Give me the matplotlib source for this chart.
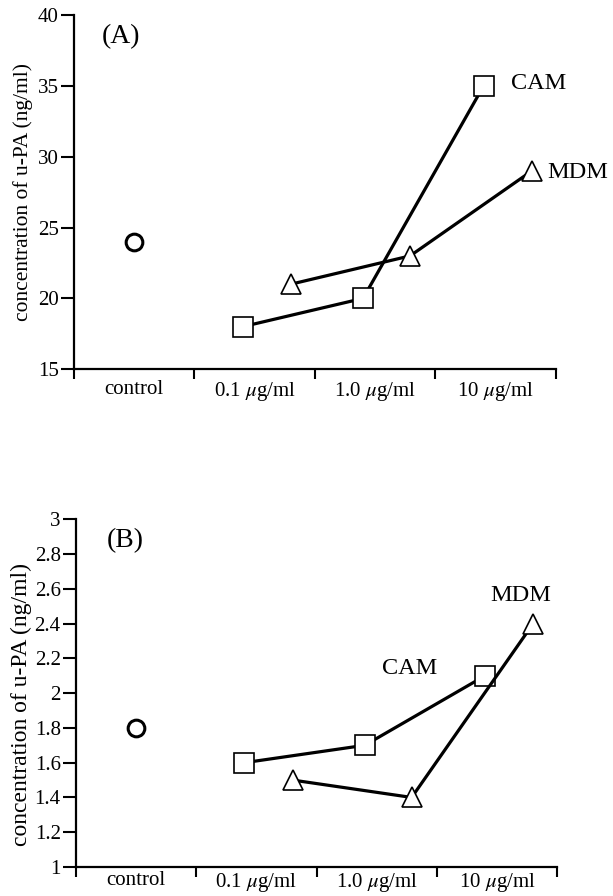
import matplotlib
matplotlib.use("Agg")
import matplotlib.pyplot as plt
import numpy as np

plt.rcParams["font.family"] = ["Liberation Serif", "DejaVu Serif"]
plt.rcParams["mathtext.fontset"] = "stix"

categories = ["control", r"0.1 $\mu$g/ml", r"1.0 $\mu$g/ml", r"10 $\mu$g/ml"]

# panel A: u-PA (ng/ml)
control_a = 24
cam_a = [18, 20, 35]
mdm_a = [21, 23, 29]

# panel B: u-PA (ng/ml)
control_b = 1.8
cam_b = [1.6, 1.7, 2.1]
mdm_b = [1.5, 1.4, 2.4]

cam_x = np.array([1.40, 2.40, 3.40])
mdm_x = np.array([1.80, 2.79, 3.80])

fig = plt.figure(figsize=(6.13, 8.96), dpi=100)
ax_a = fig.add_axes([0.1207, 0.588, 0.786, 0.395])
ax_b = fig.add_axes([0.124, 0.0324, 0.785, 0.388])


def style(ax, ylim, yticks, ylabels, xpad, ylabel_size):
    ax.set_xlim(0, 4)
    ax.set_ylim(*ylim)
    for s in ["top", "right"]:
        ax.spines[s].set_visible(False)
    for s in ["left", "bottom"]:
        ax.spines[s].set_linewidth(1.6)
    ax.set_yticks(yticks)
    ax.set_yticklabels(ylabels)
    ax.set_xticks([0, 1, 2, 3, 4])
    ax.set_xticklabels([])
    ax.set_xticks([0.5, 1.5, 2.5, 3.5], minor=True)
    ax.set_xticklabels(categories, minor=True)
    ax.tick_params(axis="x", which="major", length=7, width=1.5, direction="out")
    ax.tick_params(axis="x", which="minor", length=0, labelsize=15, pad=xpad)
    ax.tick_params(axis="y", length=9.5, width=1.5, labelsize=15, pad=1.5)
    ax.set_ylabel("concentration of u-PA (ng/ml)", fontsize=ylabel_size)


def draw(ax, control, cam, mdm):
    ax.plot([0.5], [control], marker="o", ms=12, mfc="white", mec="black", mew=2.2,
            ls="none", clip_on=False, zorder=4)
    ax.plot(cam_x, cam, color="black", lw=2.3, marker="s", ms=14, mfc="white",
            mec="black", mew=1.2, clip_on=False, zorder=3)
    ax.plot(mdm_x, mdm, color="black", lw=2.3, marker="^", ms=15, mfc="white",
            mec="black", mew=1.2, clip_on=False, zorder=3)


style(ax_a, (15, 40), [15, 20, 25, 30, 35, 40], ["15", "20", "25", "30", "35", "40"], 8, 15.5)
ax_a.yaxis.set_label_coords(-0.085, 0.5)
draw(ax_a, control_a, cam_a, mdm_a)
ax_a.text(0.39, 38.5, "(A)", fontsize=20, ha="center", va="center")
ax_a.text(3.63, 35.2, "CAM", fontsize=17.5, ha="left", va="center")
ax_a.text(3.93, 28.9, "MDM", fontsize=17.5, ha="left", va="center")

yb = [1, 1.2, 1.4, 1.6, 1.8, 2, 2.2, 2.4, 2.6, 2.8, 3]
style(ax_b, (1, 3), yb, ["1", "1.2", "1.4", "1.6", "1.8", "2", "2.2", "2.4", "2.6", "2.8", "3"], 3, 17)
ax_b.yaxis.set_label_coords(-0.092, 0.466)
draw(ax_b, control_b, cam_b, mdm_b)
ax_b.text(0.41, 2.88, "(B)", fontsize=20, ha="center", va="center")
ax_b.text(3.70, 2.56, "MDM", fontsize=17.5, ha="center", va="center")
ax_b.text(2.77, 2.14, "CAM", fontsize=17.5, ha="center", va="center")

fig.savefig("out.png", dpi=100)
